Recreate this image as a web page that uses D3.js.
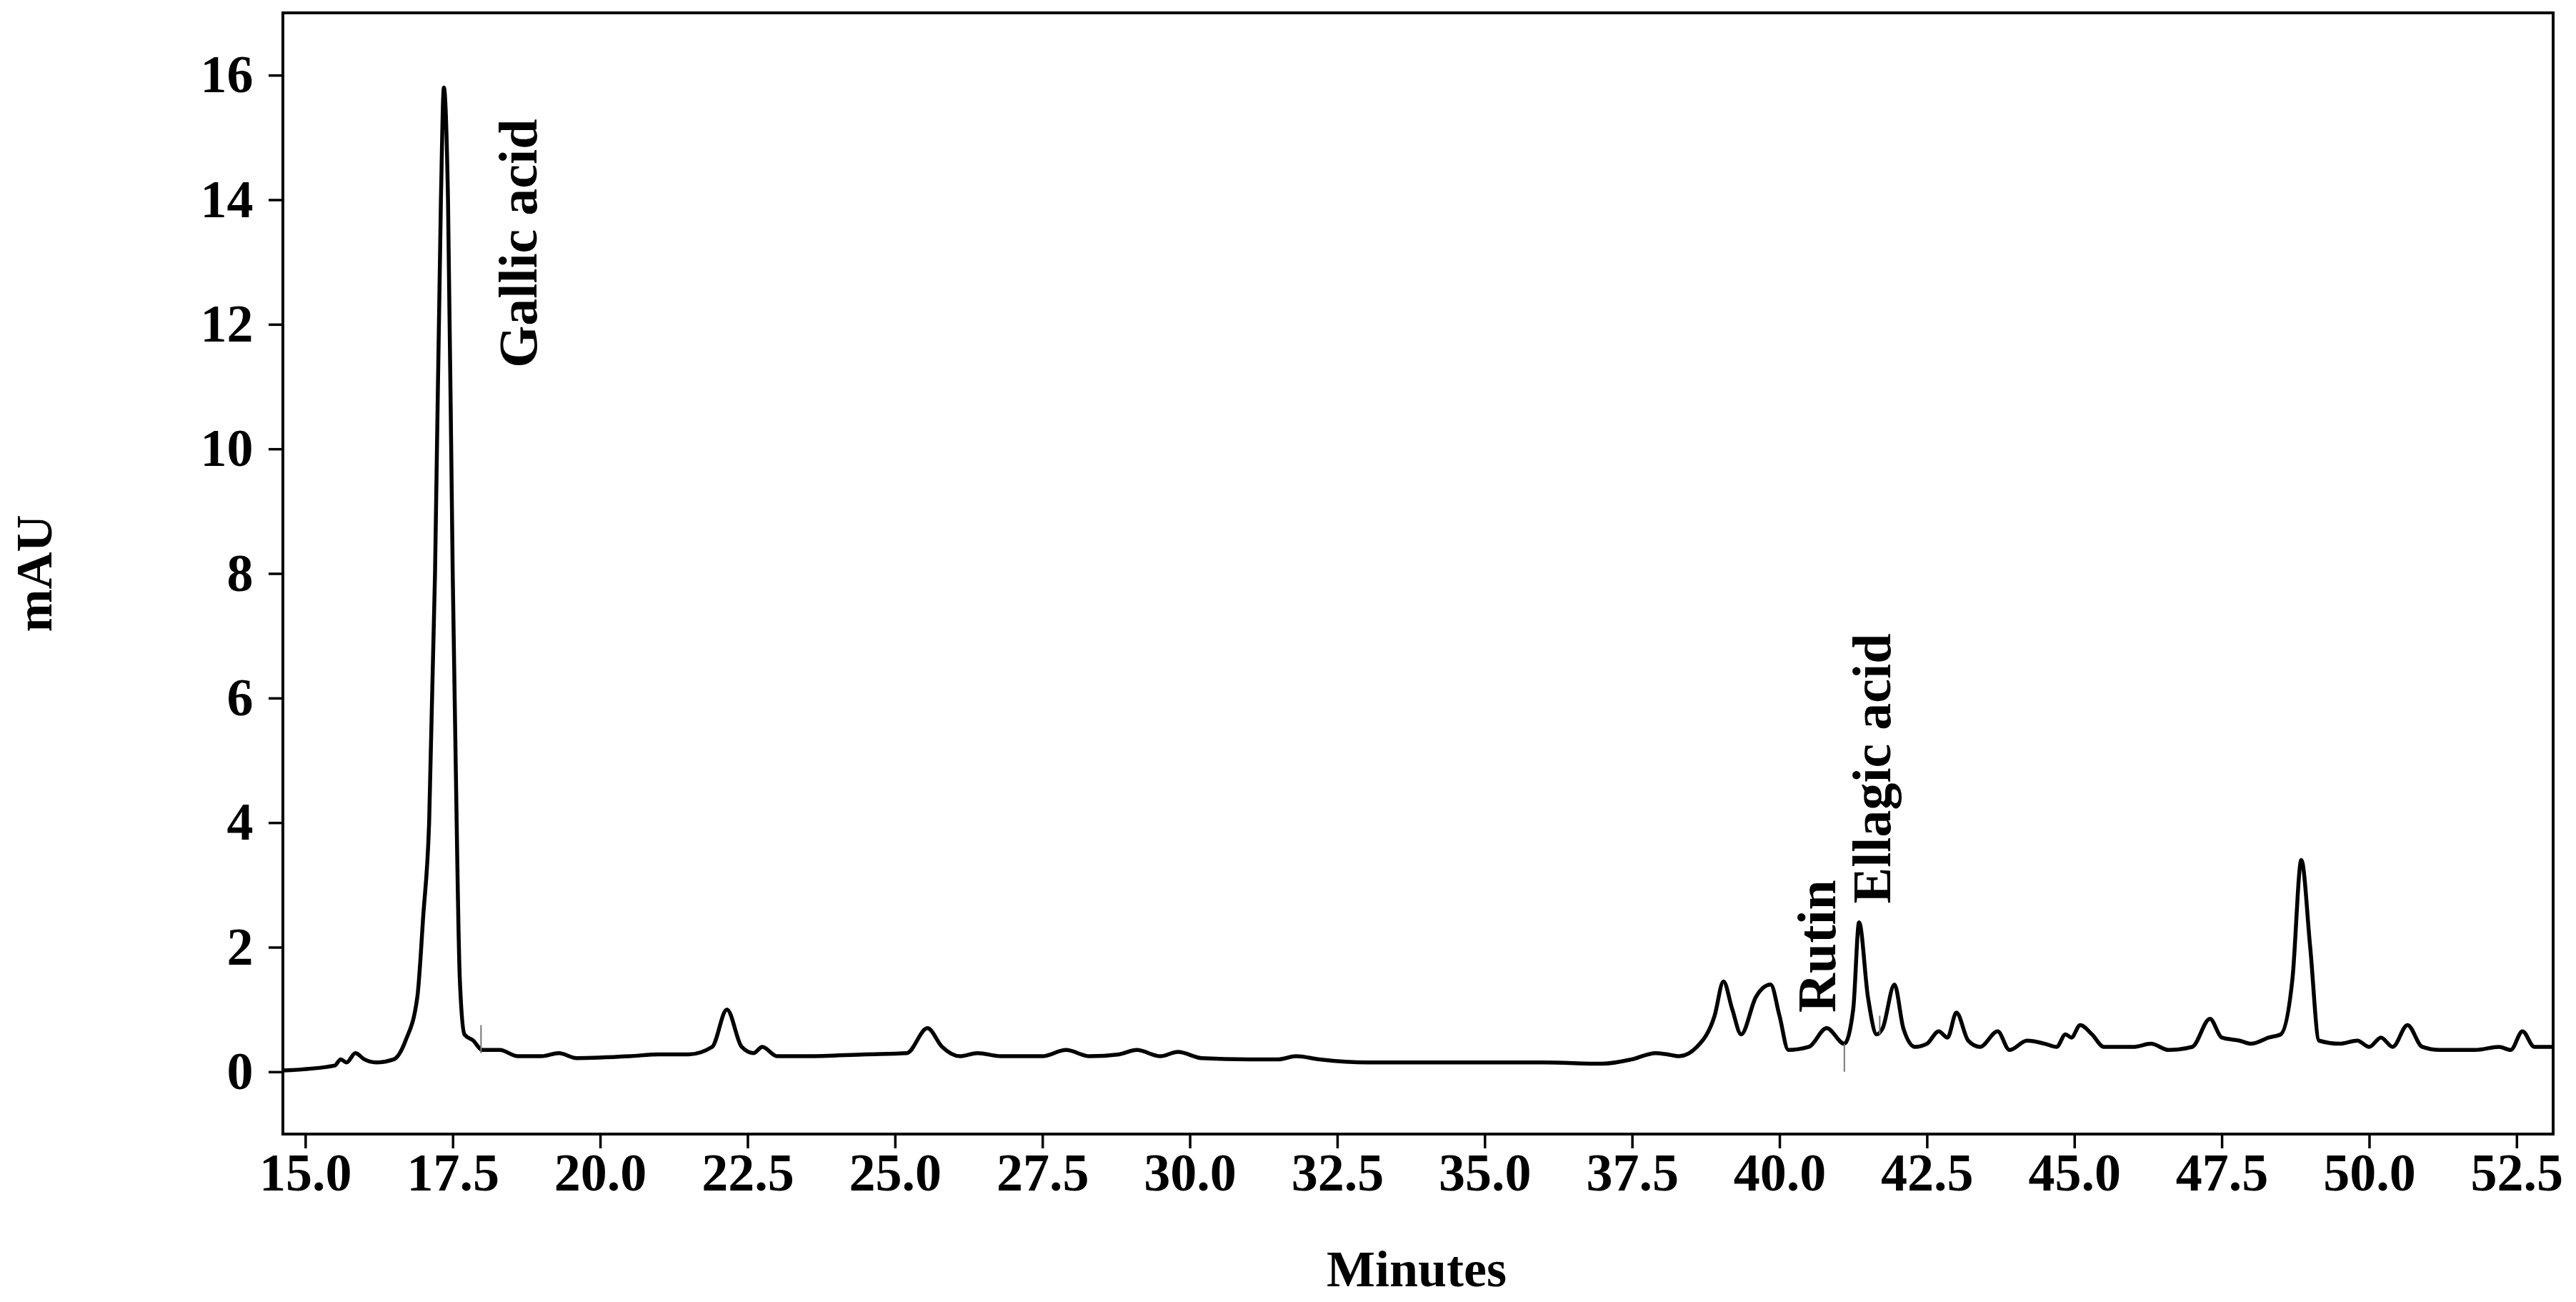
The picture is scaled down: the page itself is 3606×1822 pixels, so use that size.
<!DOCTYPE html>
<html>
<head>
<meta charset="utf-8">
<script src="https://cdn.jsdelivr.net/npm/d3@7"></script>
<style>
  body { margin: 0; background: #fff; }
  text { font-family: "Liberation Serif", "Times New Roman", serif; font-weight: bold; }
</style>
</head>
<body>
<div id="chart"></div>
<script>
// chromatogram trace: [minutes, mAU]
const times = [14.62,15.5,15.6,15.7,15.85,16.0,16.2,16.5,16.7,16.9,17.0,17.1,17.2,17.3,17.35,17.42,17.5,17.55,17.62,17.7,17.85,18.0,18.3,18.6,19.0,19.3,19.6,20.5,21.0,21.5,21.9,22.15,22.4,22.6,22.75,23.0,23.5,24.5,25.2,25.55,25.8,26.1,26.4,26.8,27.5,27.9,28.3,28.8,29.1,29.5,29.8,30.2,31.0,31.5,31.8,32.2,33.0,35.0,36.0,37.0,37.5,37.9,38.1,38.3,38.6,38.9,39.05,39.2,39.35,39.6,39.85,40.0,40.15,40.5,40.8,41.1,41.25,41.35,41.5,41.65,41.75,41.95,42.1,42.3,42.5,42.7,42.85,43.0,43.2,43.4,43.7,43.9,44.2,44.5,44.7,44.85,44.95,45.1,45.3,45.5,46.0,46.3,46.6,47.0,47.3,47.5,47.8,48.0,48.3,48.5,48.7,48.85,49.0,49.15,49.5,49.8,50.0,50.2,50.4,50.65,50.9,51.2,51.8,52.2,52.4,52.6,52.8,53.12]
const signal = [0.02,0.1,0.2,0.15,0.3,0.2,0.15,0.2,0.5,1.2,2.5,4,8,14,15.8,14,8,5,1.5,0.6,0.5,0.35,0.35,0.25,0.25,0.3,0.22,0.25,0.28,0.28,0.4,1.0,0.4,0.3,0.4,0.25,0.25,0.28,0.3,0.7,0.4,0.25,0.3,0.25,0.25,0.35,0.25,0.28,0.35,0.25,0.32,0.22,0.2,0.2,0.25,0.2,0.15,0.15,0.15,0.13,0.2,0.3,0.28,0.25,0.4,0.9,1.45,1.0,0.6,1.2,1.4,0.9,0.35,0.4,0.7,0.45,1.0,2.4,1.2,0.6,0.7,1.4,0.7,0.4,0.45,0.65,0.55,0.95,0.5,0.4,0.65,0.35,0.5,0.45,0.4,0.6,0.55,0.75,0.6,0.4,0.4,0.45,0.35,0.4,0.85,0.55,0.5,0.45,0.55,0.6,1.5,3.4,2.0,0.5,0.45,0.5,0.4,0.55,0.4,0.75,0.4,0.35,0.35,0.4,0.35,0.65,0.4,0.4]

// small integration event marks: [minutes, from mAU, to mAU]
const events = [[17.98, 0.3, 0.75], [41.1, 0.0, 0.45], [41.7, 0.6, 0.9]]

const peakNames = ["Gallic acid", "Rutin", "Ellagic acid"]
const peakTimes = [18.6, 40.62, 41.56]
const peakLevels = [11.3, 0.95, 2.7]

const xTicks = [15.0,17.5,20.0,22.5,25.0,27.5,30.0,32.5,35.0,37.5,40.0,42.5,45.0,47.5,50.0,52.5]
const yTicks = [0,2,4,6,8,10,12,14,16]

const width = 3606, height = 1822
const margin = { top: 18, right: 32, bottom: 235, left: 396 }

const x = d3.scaleLinear().domain([14.62, 53.12]).range([margin.left, width - margin.right])
const y = d3.scaleLinear().domain([-1.0, 17.0]).range([height - margin.bottom, margin.top])

const svg = d3.select("#chart").append("svg")
  .attr("width", width).attr("height", height)

// frame
svg.append("rect")
  .attr("x", margin.left).attr("y", margin.top)
  .attr("width", width - margin.left - margin.right)
  .attr("height", height - margin.top - margin.bottom)
  .attr("fill", "none").attr("stroke", "#000").attr("stroke-width", 4)

// x axis
const xAxis = svg.append("g").attr("transform", `translate(0,${y(-1.0)})`)
xAxis.call(d3.axisBottom(x).tickValues(d3.range(15, 53.01, 0.5)).tickSize(10).tickFormat(""))
xAxis.call(d3.axisBottom(x).tickValues(xTicks).tickSize(20).tickFormat(d3.format(".1f")))
xAxis.selectAll(".domain").remove()
xAxis.selectAll("line").attr("stroke-width", 3.5)
xAxis.selectAll("text").attr("font-size", 74).attr("dy", "0.75em")
  .attr("font-family", "Liberation Serif").attr("font-weight", "bold")

// y axis
const yAxis = svg.append("g").attr("transform", `translate(${x.range()[0]},0)`)
yAxis.call(d3.axisLeft(y).tickValues(d3.range(-1, 17.01, 0.25)).tickSize(10).tickFormat(""))
yAxis.call(d3.axisLeft(y).tickValues(yTicks).tickSize(20).tickFormat(d3.format("d")))
yAxis.selectAll(".domain").remove()
yAxis.selectAll("line").attr("stroke-width", 3.5)
yAxis.selectAll("text").attr("font-size", 74).attr("dx", "-0.25em")
  .attr("font-family", "Liberation Serif").attr("font-weight", "bold")

// trace
const line = d3.line().x(d => x(d[0])).y(d => y(d[1])).curve(d3.curveMonotoneX)
svg.append("path")
  .datum(d3.zip(times, signal))
  .attr("d", line)
  .attr("fill", "none").attr("stroke", "#000").attr("stroke-width", 5.5)
  .attr("stroke-linejoin", "round")

svg.selectAll(".event").data(events).join("line")
  .attr("x1", d => x(d[0])).attr("x2", d => x(d[0]))
  .attr("y1", d => y(d[1])).attr("y2", d => y(d[2]))
  .attr("stroke", "#777").attr("stroke-width", 2)

// peak labels
svg.selectAll(".peak").data(peakNames).join("text")
  .attr("transform", (d, i) => `translate(${x(peakTimes[i])},${y(peakLevels[i])}) rotate(-90)`)
  .attr("dy", "0.35em")
  .attr("font-size", 76)
  .text(d => d)

// axis titles
svg.append("text")
  .attr("transform", `translate(72,${y(8)}) rotate(-90)`)
  .attr("text-anchor", "middle").attr("font-size", 72)
  .text("mAU")

svg.append("text")
  .attr("x", 1983).attr("y", 1800)
  .attr("text-anchor", "middle").attr("font-size", 72)
  .text("Minutes")
</script>
</body>
</html>
